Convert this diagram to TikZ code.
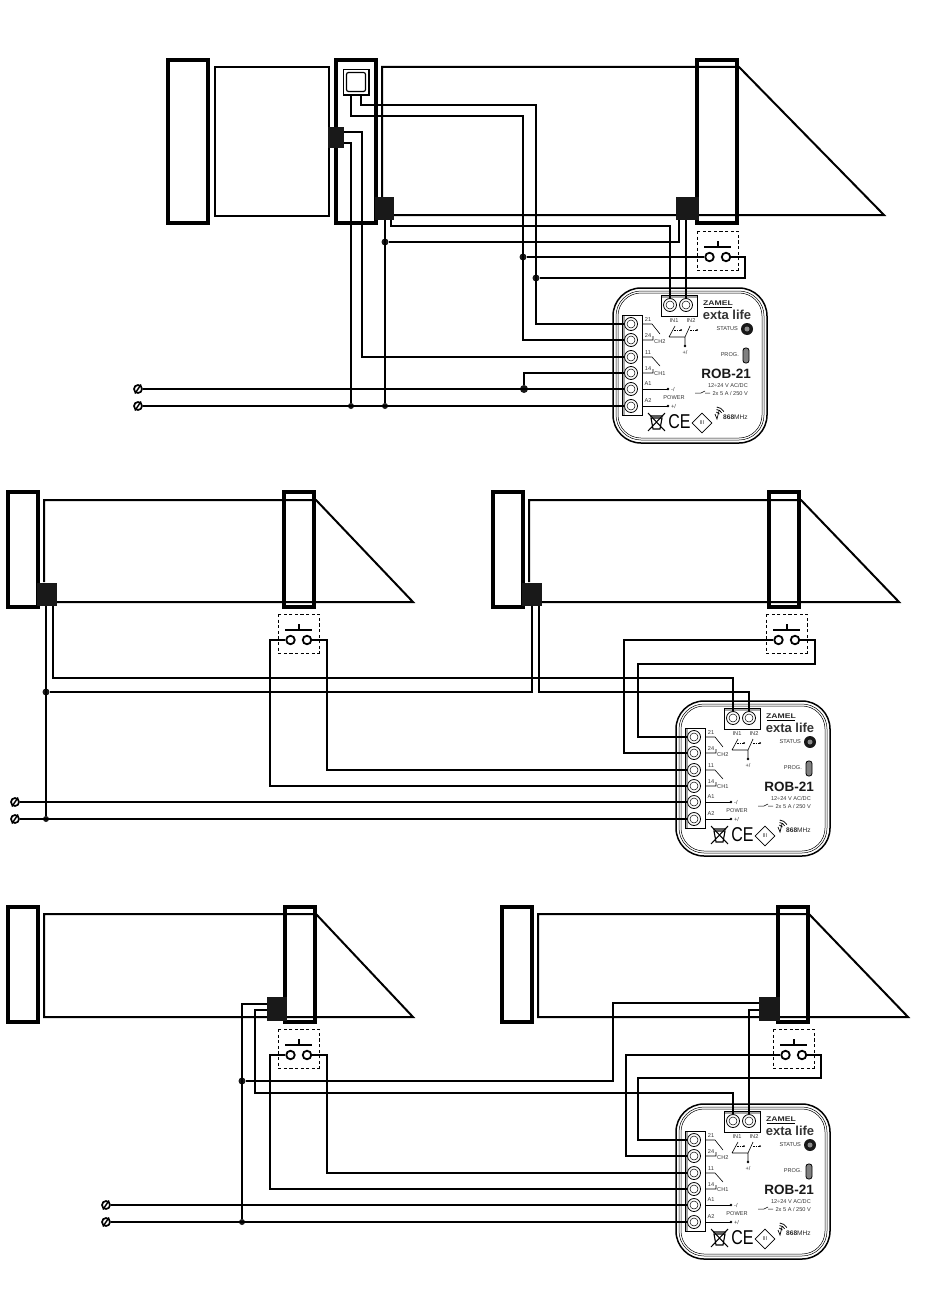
\documentclass[tikz,border=0pt]{standalone}
\usepackage{fontspec}
\setmainfont{Liberation Sans}
\usetikzlibrary{shapes.geometric}
\tikzset{
  x=1pt, y=-1pt,
  wire/.style={line width=2pt},
  post/.style={draw, line width=3.6pt},
  gate/.style={line width=2pt, line join=miter},
  dot/.style={circle, fill=black!90, inner sep=0, minimum size=7pt},
  ctact/.style={circle, draw, line width=1.8pt, fill=white, inner sep=0, minimum size=8.5pt},
  screw/.style={circle, draw, line width=1.7pt, inner sep=0, minimum size=8pt},
  blk/.style={fill=black!90, draw=none, inner sep=0},
  term/.style={circle, draw, line width=.8pt, fill=white, inner sep=0, minimum size=13pt},
  tiny/.style={font=\fontsize{5.6}{5.6}\selectfont, inner sep=0, text=black!80},
}
\newcommand{\rob}[3]{%
  \begin{scope}[shift={(#2,#3)}]
  \draw[line width=1.5pt, rounded corners=28pt] (0,0) rectangle (154,155);
  \draw[line width=.5pt, rounded corners=25pt] (3,3) rectangle (151,152);
  \draw[line width=.5pt, rounded corners=23pt] (5,5) rectangle (149,150);
  \draw[line width=1pt, fill=white] (9,27) rectangle (29,127);
  \fill[black!35] (9.5,27.5) rectangle (11.5,126.5);
  \draw[line width=1pt, fill=white] (48,7) rectangle (84,28);
  \fill[black!35] (48.5,7.5) rectangle (83.5,10);
  \foreach \n/\y in {a/36,b/52,c/69,d/85,e/101,f/118} {
    \node[term] (#1\n) at (18,\y) {};
    \draw[line width=.5pt] (18,\y) circle (4pt);
  }
  \node[term] (#1g) at (57,17) {};
  \draw[line width=.5pt] (57,17) circle (4pt);
  \node[term] (#1h) at (73,17) {};
  \draw[line width=.5pt] (73,17) circle (4pt);
  \node[tiny] at (35,32) {21};
  \node[tiny] at (35,48) {24};
  \node[tiny] at (35,65) {11};
  \node[tiny] at (35,81) {14};
  \node[tiny] at (35,96) {A1};
  \node[tiny] at (35,113) {A2};
  \node[tiny, anchor=west] at (41,54) {CH2};
  \node[tiny, anchor=west] at (41,86) {CH1};
  \node[tiny] at (61,33) {IN1};
  \node[tiny] at (78,33) {IN2};
  \draw[line width=.6pt] (29,36) -- (39,36) -- (47,46) (29,52) -- (40,52) -- (40,48)
    (29,69) -- (39,69) -- (47,78) (29,85) -- (40,85) -- (40,81);
  \draw[line width=.6pt] (29,101) -- (55,101) (29,118) -- (55,118);
  \fill (55,101) circle (1.4pt) (55,118) circle (1.4pt);
  \node[tiny, anchor=west] at (58,101) {-/~};
  \node[tiny, anchor=west] at (58,118) {+/~};
  \node[tiny] at (61,110) {POWER};
  \draw[line width=.6pt] (56,49) -- (62,38) (72,49) -- (77,38) (56,49) -- (72,49) -- (72,58);
  \draw[line width=.5pt, dash pattern=on 1.5pt off 1pt] (61,42) -- (68,42) (77,42) -- (84,42);
  \fill (68,42) circle (1pt) (84,42) circle (1pt) (72,58) circle (1.4pt);
  \node[tiny] at (72,64) {+/~};
  \node[inner sep=0, font=\fontsize{7.5}{7.5}\selectfont\bfseries, text=black!85] at (105,15) {\scalebox{1.15}[.9]{ZAMEL}};
  \draw[line width=.6pt] (91,19) -- (119,19);
  \node[inner sep=0, font=\fontsize{13}{13}\selectfont\bfseries, text=black!80] at (114,27) {exta life};
  \node[tiny, anchor=east] at (125,41) {STATUS};
  \node[blk, circle, minimum size=12pt] at (134,41) {};
  \node[circle, fill=black!45, inner sep=0, minimum size=5pt] at (134,41) {};
  \node[tiny, anchor=east] at (126,67) {PROG.};
  \draw[fill=black!50, line width=.8pt, rounded corners=2.5pt] (130,60) rectangle (136,75);
  \node[inner sep=0, anchor=east, font=\fontsize{13.5}{13.5}\selectfont\bfseries, text=black!90] at (138,86) {ROB-21};
  \node[tiny, anchor=east] at (135,97) {12÷24 V AC/DC};
  \node[tiny, anchor=east] at (135,105) {2x 5 A / 250 V};
  \draw[line width=.5pt] (82,105) -- (88,105) -- (92,103) (92,105) -- (97,105);
  % waste bin, CE and class mark
  \draw[line width=1pt] (35,125) -- (52,143) (52,125) -- (35,143);
  \draw[line width=1.1pt] (38,130) -- (40,141) -- (47,141) -- (49,130) -- cycle (37,128) -- (50,128);
  \node[inner sep=0, font=\fontsize{20}{20}\selectfont] at (66.5,134) {\scalebox{.8}[1]{CE}};
  \node[diamond, draw, line width=.6pt, inner sep=0, minimum size=20pt] (#1cls) at (89,135) {};
  \node[tiny] at (89,135) {III};
  \draw[line width=.8pt] (103,128) ++(30:4pt) arc (30:85:4pt);
  \draw[line width=.8pt] (103,128) ++(30:6.5pt) arc (30:85:6.5pt);
  \draw[line width=.8pt] (103,128) ++(30:9pt) arc (30:85:9pt);
  \draw[line width=.7pt] (102,126) -- (104,131) -- (106,123);
  \node[inner sep=0, anchor=west, font=\fontsize{6.6}{6.6}\selectfont, text=black!85] at (110,129) {\textbf{868}MHz};
  \end{scope}}
\newcommand{\screw}[3]{%
  \node[screw] (#1) at (#2,#3) {};
  \draw[line width=1.5pt] (#2-3,#3+4.5) -- (#2+3,#3-4.5);}
\newcommand{\btn}[3]{%
  \begin{scope}[shift={(#2,#3)}]
  \draw[line width=.7pt, dash pattern=on 3.2pt off 2.4pt] (0,0) rectangle (41,39);
  \draw[wire] (7,16) -- (34,16) (20.5,16) -- (20.5,10);
  \node[ctact] (#1l) at (12.5,26) {};
  \node[ctact] (#1r) at (29,26) {};
  \end{scope}}

\begin{document}
\begin{tikzpicture}
\useasboundingbox (0,0) rectangle (950,1292);

% top scheme
\draw[gate] (215,67) rectangle (329,216);
\draw[gate] (382,197) -- (382,67) -- (739,67) -- (884,215) -- (394,215);
\draw[post] (168,60) rectangle (208,223);
\draw[post] (336,60) rectangle (376,223);
\draw[post] (697,60) rectangle (737,223);
\draw[line width=1.2pt] (343.5,69.5) rectangle (369,95);
\draw[line width=1.2pt, rounded corners=2pt] (346.5,72.5) rectangle (365.5,91.5);
\coordinate (sqa) at (351,95);
\coordinate (sqb) at (361,95);
\node[blk, minimum width=16pt, minimum height=21pt] (ba) at (336,137.5) {};
\node[blk, minimum width=19pt, minimum height=23pt] (bb) at (384.5,208.5) {};
\node[blk, minimum width=23pt, minimum height=23pt] (bc) at (687.5,208.5) {};
\btn{ta}{697}{231}
\rob{ma}{613}{288}
\screw{sa}{138}{389}
\screw{sb}{138}{406}
\node[dot] (d1) at (385,242) {};
\node[dot] (d2) at (523,257) {};
\node[dot] (d3) at (536,278) {};
\node[dot, minimum size=8pt] (d4) at (524,389) {};
\node[dot, minimum size=6pt] (d5) at (351,406) {};
\node[dot, minimum size=6pt] (d6) at (385,406) {};
\draw[wire] (sqb) |- (536,105) -- (536,324) -- (maa);
\draw[wire] (sqa) |- (523,116) -- (523,340) -- (mab);
\draw[wire] (ba.east |- 0,132) -- (362,132) -- (362,357) -- (mac);
\draw[wire] (ba.east |- 0,143) -- (351,143) -- (d5);
\draw[wire] (391,220) -- (391,226) -- (670,226) -- (mag);
\draw[wire] (bb.south -| d1) -- (d6);
\draw[wire] (d1) -- (679,242) -- (679,220);
\draw[wire] (686,220) -- (mah);
\draw[wire] (d2) -- (tal);
\draw[wire] (tar) -- (745,257) -- (745,278) -- (d3);
\draw[wire] (d4) |- (mad);
\draw[wire] (sa) -- (mae);
\draw[wire] (sb) -- (maf);

% middle scheme
\draw[gate] (44,582) -- (44,500) -- (316,500) -- (413,602) -- (57,602);
\draw[gate] (529,582) -- (529,500) -- (801,500) -- (899,602) -- (542,602);
\draw[post] (8,492) rectangle (38,607);
\draw[post] (284,492) rectangle (314,607);
\draw[post] (493,492) rectangle (523,607);
\draw[post] (769,492) rectangle (799,607);
\node[blk, minimum width=20pt, minimum height=23pt] (bd) at (47,594.5) {};
\node[blk, minimum width=20pt, minimum height=23pt] (be) at (532,594.5) {};
\btn{tb}{278}{614}
\btn{tc}{766}{614}
\rob{mb}{676}{701}
\screw{sc}{15}{802}
\screw{sd}{15}{819}
\node[dot] (d7) at (46,692) {};
\node[dot, minimum size=6pt] (d8) at (46,819) {};
\draw[wire] (46,606) -- (d8);
\draw[wire] (53,606) -- (53,678) -- (733,678) -- (mbg);
\draw[wire] (d7) -- (532,692) -- (532,606);
\draw[wire] (539,606) -- (539,692) -- (749,692) -- (mbh);
\draw[wire] (tbl) -- (270,640) -- (270,786) -- (mbd);
\draw[wire] (tbr) -- (327,640) -- (327,770) -- (mbc);
\draw[wire] (tcl) -- (624,640) -- (624,753) -- (mbb);
\draw[wire] (tcr) -- (815,640) -- (815,664) -- (638,664) -- (638,737) -- (mba);
\draw[wire] (sc) -- (mbe);
\draw[wire] (sd) -- (mbf);

% bottom scheme
\draw[gate] (44,1017) -- (44,914) -- (316,914) -- (413,1017) -- cycle;
\draw[gate] (538,1017) -- (538,914) -- (809,914) -- (908,1017) -- cycle;
\draw[post] (8,907) rectangle (38,1022);
\draw[post] (285,907) rectangle (315,1022);
\draw[post] (502,907) rectangle (532,1022);
\draw[post] (778,907) rectangle (808,1022);
\node[blk, minimum width=20pt, minimum height=24pt] (bf) at (277,1009) {};
\node[blk, minimum width=21pt, minimum height=24pt] (bg) at (769.5,1009) {};
\btn{td}{278}{1029}
\btn{te}{773}{1029}
\rob{mc}{676}{1104}
\screw{se}{106}{1205}
\screw{sf}{106}{1222}
\node[dot] (d9) at (242,1081) {};
\node[dot, minimum size=6pt] (d10) at (242,1222) {};
\draw[wire] (bf.west |- 0,1004) -- (242,1004) -- (d10);
\draw[wire] (bf.west |- 0,1010) -- (255,1010) -- (255,1093) -- (733,1093) -- (mcg);
\draw[wire] (d9) -- (613,1081) -- (613,1003) -- (bg.west |- 0,1003);
\draw[wire] (bg.west |- 0,1010) -- (749,1010) -- (mch);
\draw[wire] (tdl) -- (270,1055) -- (270,1189) -- (mcd);
\draw[wire] (tdr) -- (327,1055) -- (327,1173) -- (mcc);
\draw[wire] (tel) -- (626,1055) -- (626,1156) -- (mcb);
\draw[wire] (ter) -- (821,1055) -- (821,1078) -- (638,1078) -- (638,1140) -- (mca);
\draw[wire] (se) -- (mce);
\draw[wire] (sf) -- (mcf);
\end{tikzpicture}
\end{document}
